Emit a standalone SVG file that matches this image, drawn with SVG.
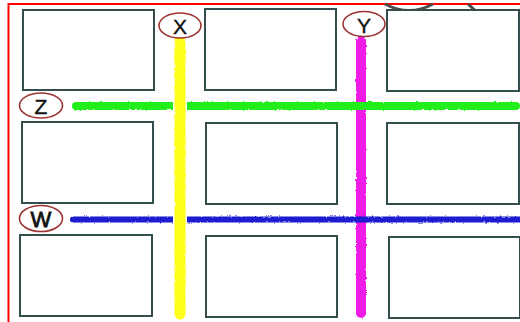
<svg xmlns="http://www.w3.org/2000/svg" width="520" height="322" viewBox="0 0 520 322">
  <defs>
    <filter id="rough" filterUnits="userSpaceOnUse" x="0" y="0" width="520" height="322">
      <feTurbulence type="fractalNoise" baseFrequency="0.35" numOctaves="2" seed="3" result="n"/>
      <feDisplacementMap in="SourceGraphic" in2="n" scale="2.5" xChannelSelector="R" yChannelSelector="G"/>
    </filter>
  </defs>
  <style>
    .box { fill: #ffffff; stroke: #344d4d; stroke-width: 2; }
    .lbl { fill: #ffffff; stroke: #9e3535; stroke-width: 1.6; }
    .txt { font-family: "Liberation Sans", Arial, sans-serif; font-size: 21px; fill: #111111; text-anchor: middle; dominant-baseline: central; stroke: #111111; stroke-width: 0.4; }
    .road { fill: none; stroke-linecap: round; filter: url(#rough); }
    .arc { fill: none; stroke: #4d4d4d; stroke-width: 3; }
  </style>
  <rect x="0" y="0" width="520" height="322" fill="#ffffff"/>

  <g id="frame">
    <rect x="8.5" y="4" width="530" height="340" fill="none" stroke="#ff0000" stroke-width="2"/>
  </g>
  <g id="top-arcs">
    <path class="arc" d="M385 4 Q409 17 433 4"/>
    <path class="arc" d="M468 4 Q485 22 505 17 Q515 14 522 9"/>
  </g>

  <g id="box-r1c1"><rect class="box" x="23" y="10" width="131" height="80"/></g>
  <g id="box-r1c2"><rect class="box" x="205" y="9" width="131" height="81"/></g>
  <g id="box-r1c3"><rect class="box" x="387" y="10" width="132" height="81"/></g>
  <g id="box-r2c1"><rect class="box" x="22" y="122" width="131" height="81"/></g>
  <g id="box-r2c2"><rect class="box" x="206" y="123" width="131" height="81"/></g>
  <g id="box-r2c3"><rect class="box" x="387" y="123" width="132" height="81"/></g>
  <g id="box-r3c1"><rect class="box" x="20" y="235" width="132" height="81"/></g>
  <g id="box-r3c2"><rect class="box" x="206" y="236" width="131" height="81"/></g>
  <g id="box-r3c3"><rect class="box" x="389" y="237" width="131" height="81"/></g>

  <g id="connectors">
    <line class="road" x1="361" y1="41" x2="361" y2="313" stroke="#ee1ee6" stroke-width="10"/>
    <line class="road" x1="76" y1="106" x2="516" y2="106" stroke="#22ee1a" stroke-width="8"/>
    <line class="road" x1="73" y1="219.5" x2="522" y2="219.5" stroke="#1a1ad0" stroke-width="6"/>
    <line x1="180" y1="100" x2="180" y2="226" stroke="#ffffff" stroke-width="14"/>
    <line class="road" x1="180" y1="41" x2="180" y2="314" stroke="#ffff1a" stroke-width="11"/>
  </g>

  <g id="label-x">
    <ellipse class="lbl" cx="180" cy="25.5" rx="21" ry="12.5"/>
    <text class="txt" x="180" y="26">X</text>
  </g>
  <g id="label-y">
    <ellipse class="lbl" cx="364" cy="24" rx="21" ry="12.5"/>
    <text class="txt" x="364" y="25">Y</text>
  </g>
  <g id="label-z">
    <ellipse class="lbl" cx="41" cy="105.5" rx="21.5" ry="12.5"/>
    <text class="txt" x="41" y="106">Z</text>
  </g>
  <g id="label-w">
    <ellipse class="lbl" cx="41" cy="218.5" rx="21.5" ry="13"/>
    <text class="txt" x="41" y="219" style="font-size:22px;stroke-width:0.8">W</text>
  </g>
</svg>
